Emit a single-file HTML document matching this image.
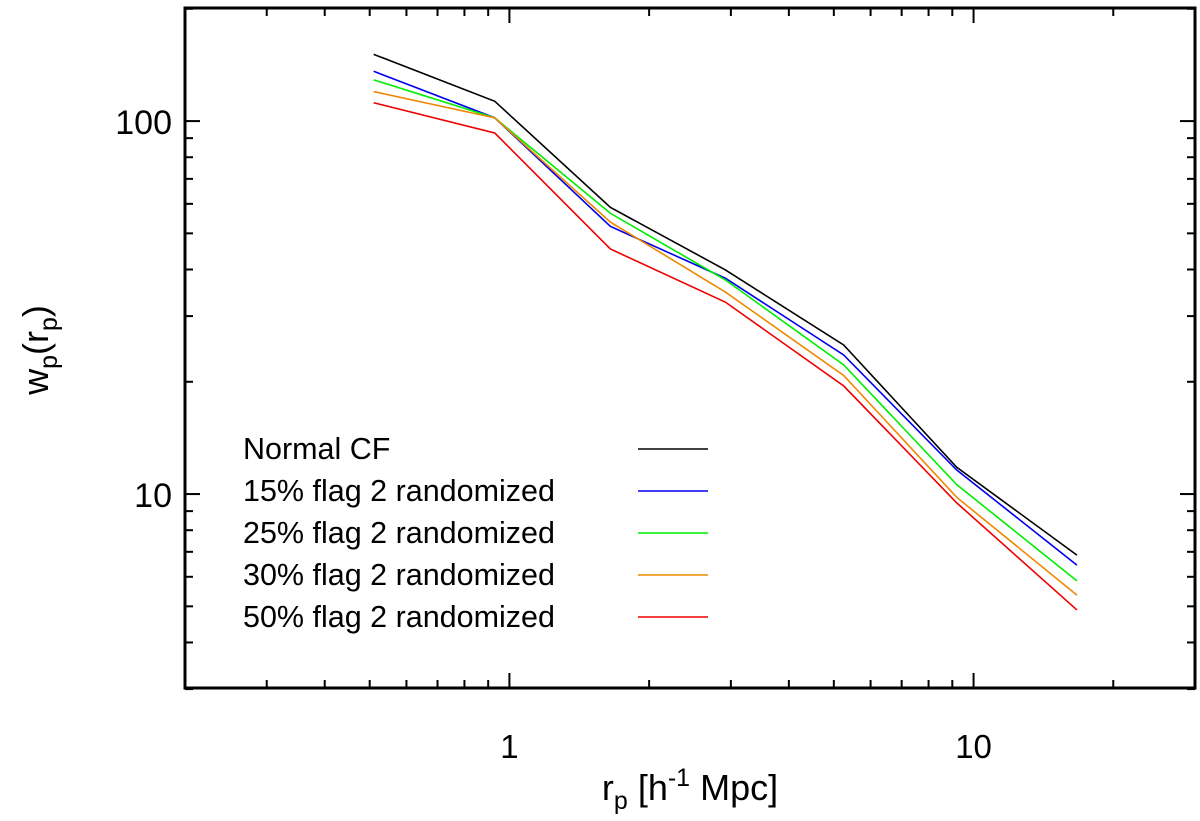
<!DOCTYPE html>
<html><head><meta charset="utf-8"><style>
html,body{margin:0;padding:0;background:#fff;}
svg{display:block;font-family:"Liberation Sans",sans-serif;}
</style></head><body>
<svg id="chart" width="1200" height="821" viewBox="0 0 1200 821" xmlns="http://www.w3.org/2000/svg">
<g id="ticks"></g>
<g id="series"></g>
<rect x="185" y="8" width="1010" height="680" fill="none" stroke="#000" stroke-width="3"/>
<g id="legend" font-size="30.5"></g>
<text x="690" y="800" font-size="36" text-anchor="middle">r<tspan font-size="25" dy="9">p</tspan><tspan dy="-9"> [h</tspan><tspan font-size="25" dy="-14">-1</tspan><tspan dy="14"> Mpc]</tspan></text>
<text transform="translate(48,350) rotate(-90)" font-size="36" text-anchor="middle">w<tspan font-size="25" dy="9">p</tspan><tspan dy="-9">(r</tspan><tspan font-size="25" dy="9">p</tspan><tspan dy="-9">)</tspan></text>
</svg>
<script>
const xValues=[0.51,0.93,1.65,2.92,5.25,9.2,16.7];
const seriesNames=["Normal CF","15% flag 2 randomized","25% flag 2 randomized","30% flag 2 randomized","50% flag 2 randomized"];
const seriesColors=["#000000","#0000ee","#00ee00","#ee8800","#ee0000"];
const normalCF=[151,113,58.7,39.9,25.1,11.8,6.86];
const rand15=[136,102,52.2,37.9,23.6,11.6,6.45];
const rand25=[129,102,56.6,37.5,22.2,10.6,5.85];
const rand30=[120,102,53.6,34.8,20.8,9.8,5.36];
const rand50=[112,92.9,45.4,32.7,19.5,9.47,4.89];
const xMajorTicks=[1,10];
const yMajorTicks=[10,100];
const xMinorTicks=[0.2,0.3,0.4,0.5,0.6,0.7,0.8,0.9,2,3,4,5,6,7,8,9,20,30];
const yMinorTicks=[3,4,5,6,7,8,9,20,30,40,50,60,70,80,90,200];

const L=185,R=1195,T=8,B=688;
const xmin=Math.log10(0.2),xmax=Math.log10(30),ymin=Math.log10(3.02),ymax=Math.log10(201);
const sx=v=>L+(Math.log10(v)-xmin)/(xmax-xmin)*(R-L);
const sy=v=>B-(Math.log10(v)-ymin)/(ymax-ymin)*(B-T);
const NS="http://www.w3.org/2000/svg";
function mk(tag,attrs,parent){const e=document.createElementNS(NS,tag);for(const k in attrs)e.setAttribute(k,attrs[k]);parent.appendChild(e);return e;}
const tg=document.getElementById('ticks');
function xt(v,len){
  let a=mk('line',{x1:sx(v),x2:sx(v),y1:B,y2:B-len,stroke:'#000','stroke-width':2},tg);
  
  
  let b=mk('line',{x1:sx(v),x2:sx(v),y1:T,y2:T+len,stroke:'#000','stroke-width':2},tg);
  
  
}
function yt(v,len){
  let a=mk('line',{x1:L,x2:L+len,y1:sy(v),y2:sy(v),stroke:'#000','stroke-width':2},tg);
  
  
  let b=mk('line',{x1:R,x2:R-len,y1:sy(v),y2:sy(v),stroke:'#000','stroke-width':2},tg);
  
  
}
xMinorTicks.forEach(v=>xt(v,8));yMinorTicks.forEach(v=>yt(v,8));
xMajorTicks.forEach(v=>{xt(v,15);
  const t=mk('text',{x:sx(v),y:B+70,'font-size':33,'text-anchor':'middle'},tg);t.textContent=v;
  
  });
yMajorTicks.forEach(v=>{yt(v,15);
  const t=mk('text',{x:L-13,y:sy(v)+13,'font-size':34,'text-anchor':'end'},tg);t.textContent=v;
  
  });
const all=[normalCF,rand15,rand25,rand30,rand50];
const sg=document.getElementById('series'),lg=document.getElementById('legend');
all.forEach((s,i)=>{
  const p=mk('polyline',{points:s.map((v,j)=>sx(xValues[j])+','+sy(v)).join(' '),fill:'none',stroke:seriesColors[i],'stroke-width':1.6},sg);
  
  
  const yy=449+i*42;
  const t=mk('text',{x:243,y:yy+10},lg);t.textContent=seriesNames[i];
  
  
  const l=mk('line',{x1:638,x2:708,y1:yy,y2:yy,stroke:seriesColors[i],'stroke-width':1.6},lg);
  
  
});
</script>
</body></html>
